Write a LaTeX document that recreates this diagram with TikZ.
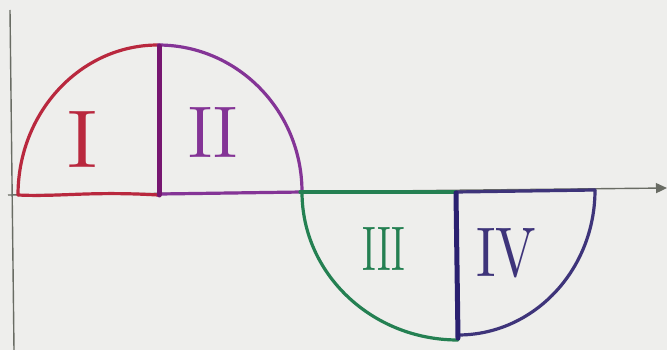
\documentclass[tikz,border=0pt]{standalone}
\usepackage{graphicx}
\usetikzlibrary{arrows.meta}
\definecolor{bgpaper}{RGB}{238,238,236}
\definecolor{axisgray}{RGB}{105,108,100}
\definecolor{qred}{RGB}{185,40,62}
\definecolor{qpurple}{RGB}{132,52,150}
\definecolor{qdivA}{RGB}{118,22,112}
\definecolor{qgreen}{RGB}{36,128,82}
\definecolor{qnavy}{RGB}{62,52,122}
\definecolor{qdivB}{RGB}{42,32,112}
\tikzset{
  curveline/.style={line width=3.2pt, line cap=round, line join=round},
  divline/.style={line width=5pt, line cap=round},
  axisline/.style={line width=1.4pt, draw=axisgray},
  numeral/.style={inner sep=0pt},
}
\newcommand{\numbox}[3]{\resizebox{#1pt}{#2pt}{#3}}
\begin{document}
\begin{tikzpicture}[x=1pt,y=-1pt]
\useasboundingbox (0,0) rectangle (667,350);
\fill[bgpaper] (0,0) rectangle (667,350);
% axes
\draw[axisline] (10,10) -- (14,350);
\draw[axisline, -{Triangle[length=11pt,width=10pt]}] (8,195) -- (667,188);
% quadrant I (red)
\draw[curveline, qred] (18,195) arc[start angle=180, end angle=270, x radius=140, y radius=150];
\draw[curveline, qred] (18,195) .. controls (60,197) and (90,191) .. (158,195);
% quadrant II (purple)
\draw[curveline, qpurple] (158,45) arc[start angle=270, end angle=360, x radius=144, y radius=147];
\draw[curveline, qpurple] (160,194) -- (302,192);
% quadrant III (green)
\draw[curveline, qgreen] (302,192) arc[start angle=180, end angle=90, x radius=156, y radius=148];
\draw[curveline, qgreen] (300,192) -- (456,192);
% quadrant IV (navy)
\draw[curveline, qnavy] (595,190) arc[start angle=0, end angle=90, x radius=137, y radius=145];
\draw[curveline, qnavy] (456,192) -- (595,190);
% dividers
\draw[divline, qdivA] (159,46) -- (159,195);
\draw[divline, qdivB] (456,193) -- (458,338);
% labels
\node[numeral, text=qred] (labI) at (83,139) {\numbox{30}{56}{I}};
\node[numeral, text=qpurple] (labII) at (213,132) {\numbox{50}{50}{II}};
\node[numeral, text=qgreen] (labIII) at (384,249) {\numbox{43}{43}{III}};
\node[numeral, text=qnavy] (labIV) at (506,253) {\numbox{60}{48}{IV}};
\end{tikzpicture}
\end{document}
